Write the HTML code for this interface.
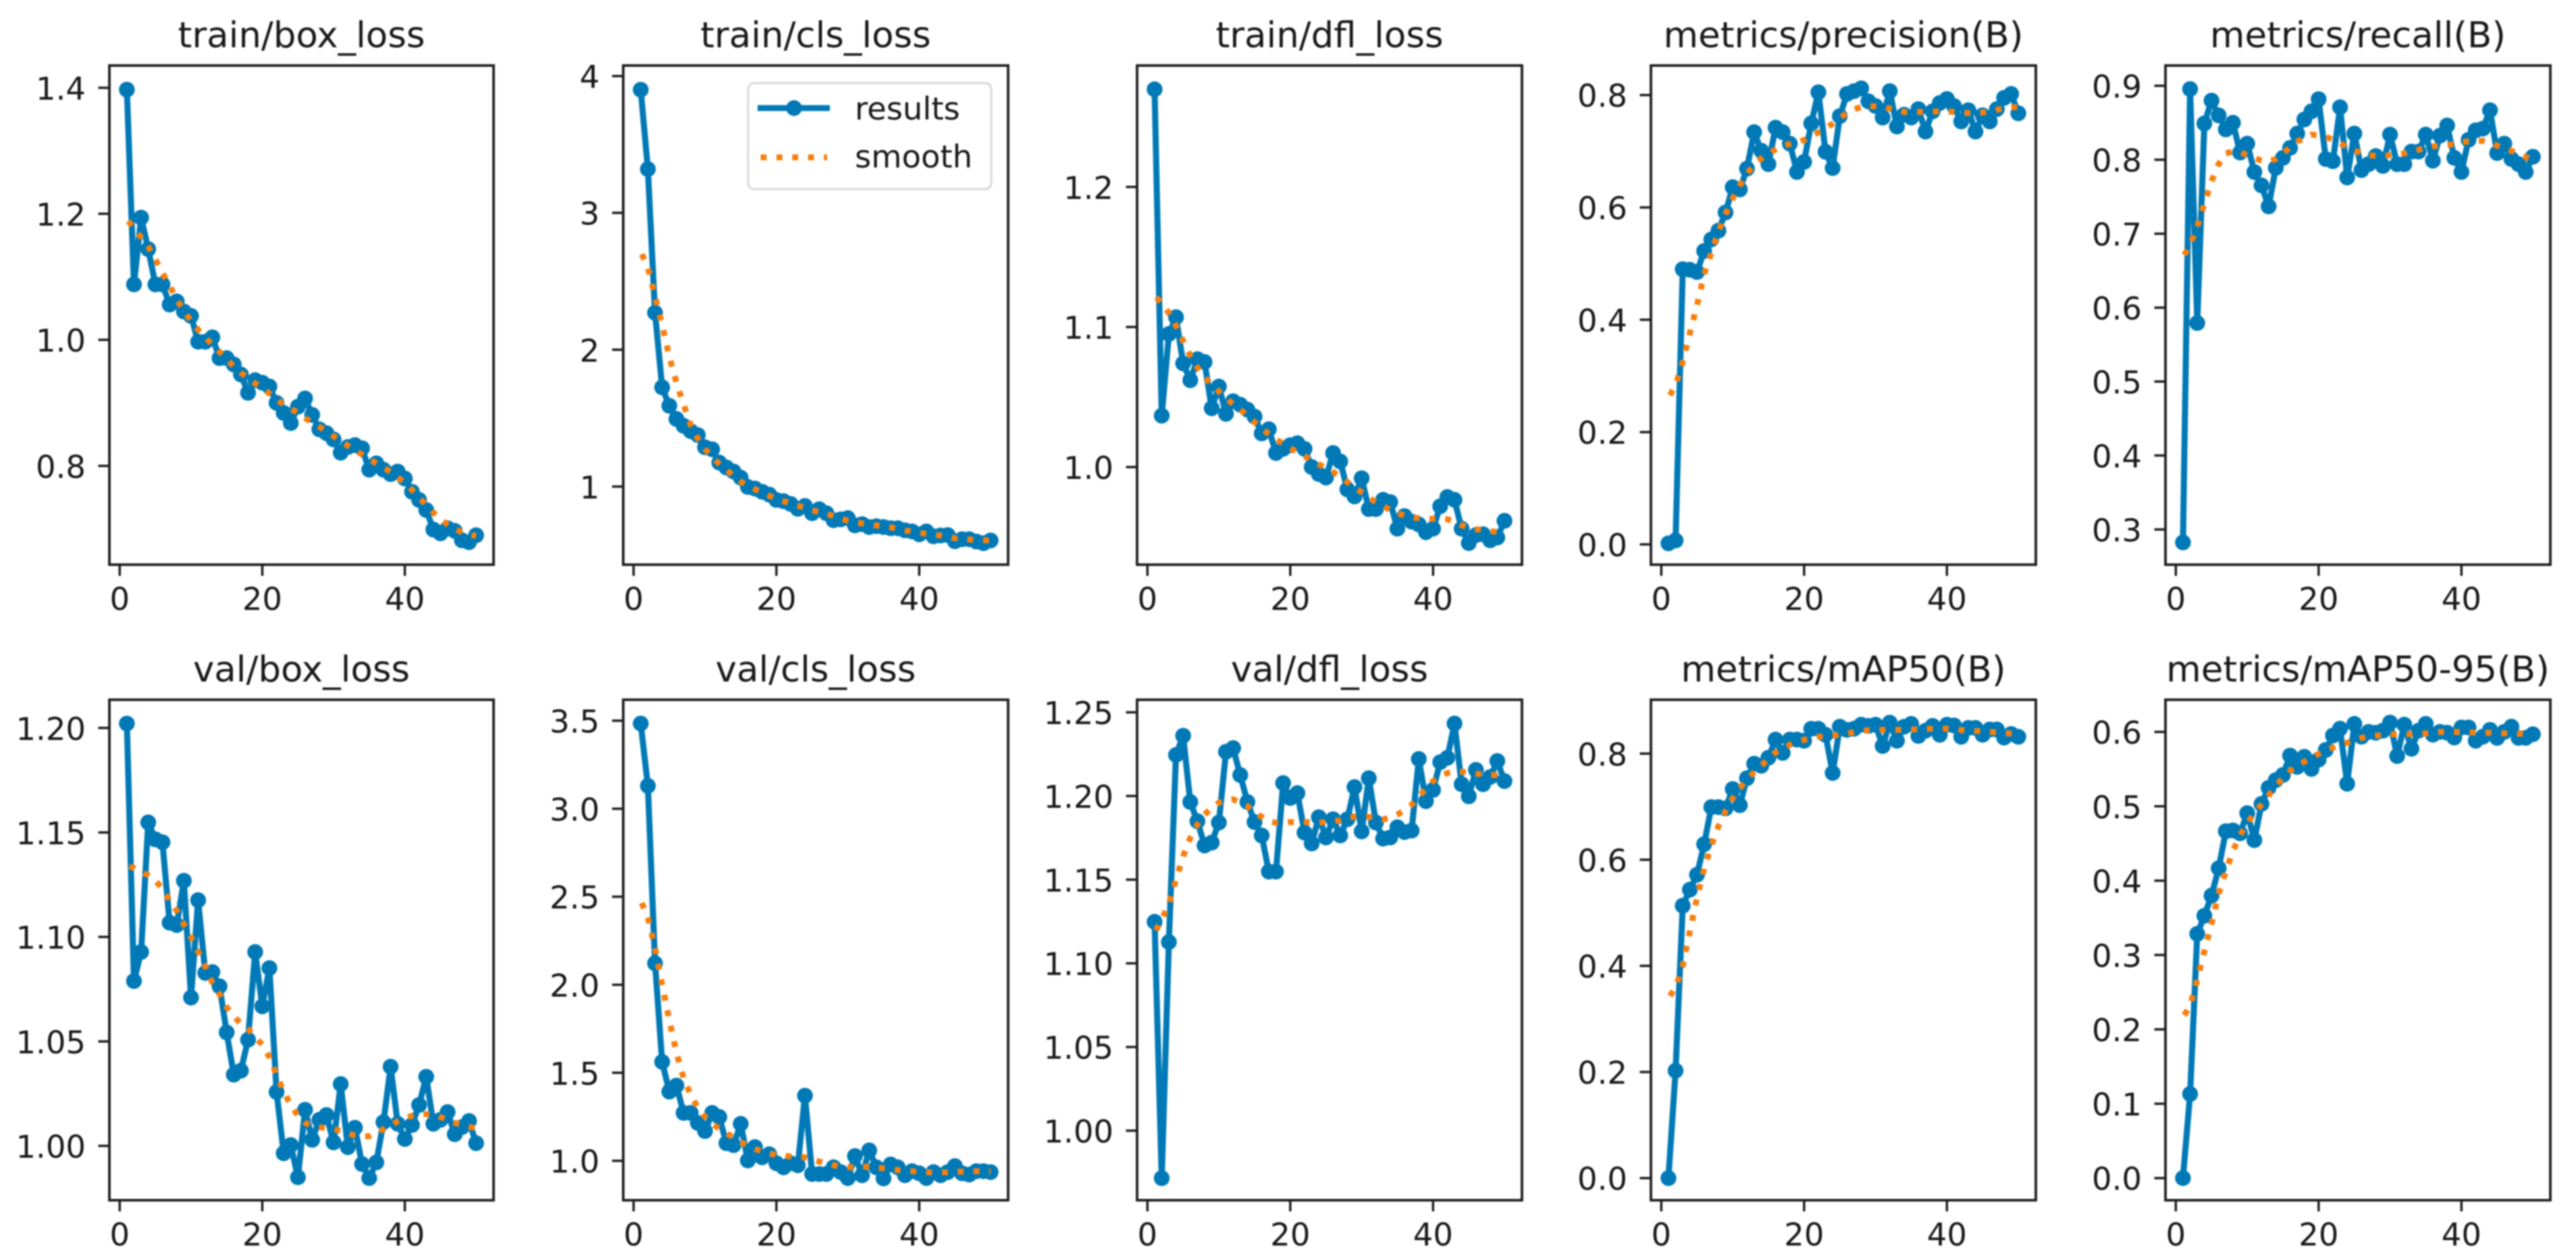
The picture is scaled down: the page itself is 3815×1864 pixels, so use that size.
<!DOCTYPE html>
<html lang="en">
<head>
<meta charset="utf-8">
<title>Training results</title>
<style>
  html, body { margin: 0; padding: 0; background: #fff; }
  body { width: 3815px; height: 1864px; overflow: hidden; }
  svg { display: block; filter: blur(1px); }
  text { font-family: "DejaVu Sans", "Liberation Sans", sans-serif; fill: #1a1819; }
</style>
</head>
<body>
<svg id="chart" xmlns="http://www.w3.org/2000/svg" width="3815" height="1864" viewBox="0 0 3815 1864"></svg>
<script>
const epochs = [1,2,3,4,5,6,7,8,9,10,11,12,13,14,15,16,17,18,19,20,21,22,23,24,25,26,27,28,29,30,31,32,33,34,35,36,37,38,39,40,41,42,43,44,45,46,47,48,49,50];
const xTickValues = [0, 20, 40];

const trainBoxResults = [1.397,1.088,1.194,1.144,1.088,1.088,1.056,1.061,1.045,1.038,0.997,0.997,1.004,0.971,0.971,0.961,0.945,0.916,0.936,0.932,0.926,0.900,0.884,0.868,0.894,0.907,0.881,0.858,0.852,0.842,0.821,0.830,0.833,0.828,0.794,0.804,0.794,0.787,0.791,0.780,0.759,0.746,0.730,0.699,0.693,0.701,0.697,0.682,0.679,0.690];
const trainBoxSmooth = [1.192,1.176,1.163,1.148,1.128,1.106,1.086,1.064,1.046,1.030,1.016,1.004,0.992,0.981,0.969,0.958,0.948,0.939,0.931,0.923,0.915,0.906,0.897,0.891,0.884,0.876,0.869,0.862,0.855,0.847,0.840,0.832,0.825,0.818,0.811,0.804,0.797,0.791,0.782,0.773,0.762,0.750,0.738,0.726,0.716,0.707,0.700,0.695,0.691,0.689];
const trainBoxTicks = [0.8, 1.0, 1.2, 1.4];
const trainBoxTickLabels = ["0.8", "1.0", "1.2", "1.4"];
const trainBoxDomain = [0.6433, 1.4353];

const trainClsResults = [3.90,3.32,2.27,1.725,1.59,1.494,1.444,1.405,1.376,1.287,1.272,1.175,1.139,1.11,1.065,0.997,0.985,0.962,0.941,0.902,0.893,0.873,0.837,0.858,0.805,0.834,0.805,0.754,0.76,0.769,0.716,0.725,0.704,0.71,0.704,0.695,0.695,0.68,0.672,0.651,0.672,0.636,0.642,0.645,0.60,0.615,0.615,0.598,0.586,0.606];
const trainClsSmooth = [2.716,2.60,2.39,2.18,1.95,1.76,1.60,1.45,1.35,1.275,1.215,1.165,1.12,1.08,1.036,1.005,0.98,0.955,0.932,0.91,0.893,0.877,0.86,0.845,0.825,0.815,0.80,0.785,0.765,0.75,0.74,0.73,0.722,0.716,0.708,0.702,0.692,0.68,0.67,0.662,0.655,0.648,0.642,0.632,0.622,0.617,0.613,0.61,0.607,0.605];
const trainClsTicks = [1, 2, 3, 4];
const trainClsTickLabels = ["1", "2", "3", "4"];
const trainClsDomain = [0.429, 4.077];

const trainDflResults = [1.2697,1.0367,1.095,1.107,1.074,1.062,1.077,1.075,1.042,1.0575,1.038,1.047,1.0445,1.041,1.036,1.024,1.027,1.010,1.013,1.0156,1.017,1.013,1.000,0.995,0.9925,1.010,1.004,0.984,0.979,0.992,0.970,0.970,0.9766,0.975,0.956,0.965,0.961,0.959,0.9535,0.956,0.972,0.9786,0.9766,0.956,0.9457,0.9514,0.952,0.9477,0.9497,0.9616];
const trainDflSmooth = [1.1225,1.117,1.110,1.101,1.090,1.0795,1.071,1.064,1.059,1.054,1.049,1.045,1.041,1.0365,1.032,1.0277,1.0235,1.020,1.0165,1.0136,1.0105,1.0078,1.005,1.002,0.9993,0.9965,0.993,0.9893,0.9855,0.982,0.978,0.975,0.972,0.9695,0.967,0.9655,0.964,0.9635,0.963,0.963,0.963,0.9627,0.961,0.9585,0.9568,0.9556,0.955,0.9543,0.9535,0.953];
const trainDflTicks = [1.0, 1.1, 1.2];
const trainDflTickLabels = ["1.0", "1.1", "1.2"];
const trainDflDomain = [0.9303, 1.2867];

const precisionResults = [0.002,0.007,0.49,0.489,0.485,0.5225,0.543,0.5586,0.591,0.636,0.632,0.669,0.734,0.701,0.677,0.742,0.734,0.7135,0.663,0.681,0.7495,0.805,0.699,0.670,0.7625,0.802,0.807,0.812,0.789,0.7805,0.760,0.807,0.744,0.765,0.760,0.775,0.735,0.771,0.786,0.793,0.7805,0.753,0.773,0.735,0.764,0.753,0.775,0.795,0.802,0.7676];
const precisionSmooth = [0.2616,0.283,0.325,0.376,0.425,0.481,0.519,0.557,0.588,0.616,0.639,0.660,0.676,0.687,0.696,0.703,0.709,0.713,0.716,0.72,0.727,0.7335,0.741,0.749,0.759,0.768,0.775,0.7785,0.78,0.78,0.779,0.776,0.772,0.770,0.770,0.770,0.770,0.7705,0.771,0.771,0.770,0.769,0.768,0.768,0.769,0.771,0.774,0.776,0.778,0.779];
const precisionTicks = [0.0, 0.2, 0.4, 0.6, 0.8];
const precisionTickLabels = ["0.0", "0.2", "0.4", "0.6", "0.8"];
const precisionDomain = [-0.036, 0.8526];

const recallResults = [0.2825,0.8956,0.5792,0.849,0.880,0.860,0.841,0.850,0.8097,0.8217,0.7834,0.7653,0.7369,0.789,0.8025,0.816,0.8354,0.8545,0.8655,0.8819,0.801,0.798,0.871,0.776,0.8354,0.786,0.794,0.805,0.7916,0.834,0.794,0.794,0.811,0.811,0.834,0.7987,0.8327,0.8463,0.8025,0.7834,0.827,0.8398,0.842,0.867,0.809,0.8217,0.801,0.794,0.7834,0.804];
const recallSmooth = [0.668,0.685,0.7095,0.7405,0.771,0.794,0.809,0.8105,0.8105,0.806,0.802,0.799,0.7975,0.801,0.808,0.817,0.8245,0.8295,0.834,0.833,0.831,0.827,0.822,0.817,0.8125,0.809,0.806,0.8053,0.8053,0.806,0.807,0.8085,0.811,0.8135,0.816,0.818,0.819,0.82,0.821,0.8235,0.825,0.8255,0.8255,0.823,0.819,0.815,0.812,0.8075,0.8036,0.80];
const recallTicks = [0.3, 0.4, 0.5, 0.6, 0.7, 0.8, 0.9];
const recallTickLabels = ["0.3", "0.4", "0.5", "0.6", "0.7", "0.8", "0.9"];
const recallDomain = [0.2524, 0.9274];

const valBoxResults = [1.2021,1.0789,1.0928,1.1548,1.1467,1.1453,1.1068,1.1057,1.1269,1.071,1.1176,1.0828,1.0832,1.0764,1.0543,1.0341,1.036,1.0508,1.0928,1.0668,1.0851,1.0258,0.9965,1.0004,0.985,1.0173,1.0029,1.0125,1.0148,1.0017,1.0296,0.9994,1.0087,0.9913,0.9846,0.9921,1.0114,1.0379,1.0106,1.0033,1.010,1.0196,1.0331,1.0106,1.0125,1.0162,1.0056,1.009,1.0119,1.0013];
const valBoxSmooth = [1.1342,1.133,1.131,1.1295,1.127,1.123,1.1175,1.1125,1.106,1.100,1.093,1.086,1.078,1.0725,1.0664,1.062,1.0585,1.056,1.052,1.0485,1.0425,1.034,1.026,1.0195,1.0145,1.011,1.0095,1.009,1.0085,1.008,1.0072,1.006,1.005,1.0046,1.0046,1.006,1.008,1.0097,1.0118,1.0132,1.0144,1.015,1.0152,1.015,1.0138,1.0125,1.011,1.0103,1.0092,1.0085];
const valBoxTicks = [1.00, 1.05, 1.10, 1.15, 1.20];
const valBoxTickLabels = ["1.00", "1.05", "1.10", "1.15", "1.20"];
const valBoxDomain = [0.974, 1.2135];

const valClsResults = [3.484,3.13,2.122,1.562,1.393,1.427,1.272,1.272,1.215,1.169,1.272,1.249,1.10,1.089,1.21,1.002,1.078,1.02,1.037,0.986,0.963,0.986,0.975,1.37,0.925,0.925,0.925,0.963,0.936,0.902,1.027,0.918,1.059,0.963,0.90,0.979,0.963,0.918,0.941,0.929,0.902,0.936,0.918,0.936,0.97,0.929,0.922,0.941,0.941,0.936];
const valClsSmooth = [2.479,2.38,2.21,2.00,1.80,1.615,1.47,1.375,1.30,1.25,1.21,1.183,1.158,1.13,1.106,1.088,1.067,1.054,1.042,1.034,1.029,1.025,1.022,1.02,1.008,0.996,0.985,0.975,0.968,0.964,0.964,0.967,0.966,0.962,0.957,0.952,0.947,0.944,0.941,0.937,0.935,0.934,0.934,0.935,0.937,0.939,0.94,0.941,0.941,0.941];
const valClsTicks = [1.0, 1.5, 2.0, 2.5, 3.0, 3.5];
const valClsTickLabels = ["1.0", "1.5", "2.0", "2.5", "3.0", "3.5"];
const valClsDomain = [0.776, 3.619];

const valDflResults = [1.1248,0.9716,1.1127,1.2245,1.236,1.1964,1.1849,1.1704,1.1721,1.1841,1.2264,1.2286,1.2125,1.1964,1.1844,1.1764,1.1548,1.1548,1.2077,1.1988,1.2017,1.1781,1.1716,1.1873,1.1752,1.1861,1.1764,1.1861,1.2053,1.1788,1.2106,1.1841,1.1745,1.1752,1.1813,1.1784,1.1793,1.2221,1.1969,1.2036,1.2202,1.2228,1.2433,1.207,1.1998,1.2156,1.207,1.2113,1.2209,1.2089];
const valDflSmooth = [1.1183,1.126,1.1356,1.15,1.164,1.175,1.183,1.1888,1.193,1.196,1.1975,1.198,1.196,1.194,1.19,1.1875,1.1848,1.184,1.184,1.1844,1.1844,1.1844,1.1842,1.184,1.1845,1.1848,1.1855,1.187,1.1875,1.1877,1.1875,1.187,1.186,1.187,1.1889,1.1915,1.1947,1.2,1.204,1.2089,1.212,1.2137,1.2144,1.2144,1.214,1.2133,1.213,1.2125,1.2125,1.2125];
const valDflTicks = [1.00, 1.05, 1.10, 1.15, 1.20, 1.25];
const valDflTickLabels = ["1.00", "1.05", "1.10", "1.15", "1.20", "1.25"];
const valDflDomain = [0.9584, 1.2575];

const map50Results = [0.0,0.2025,0.5134,0.5437,0.5718,0.6294,0.6992,0.6992,0.6969,0.7333,0.7029,0.7537,0.781,0.7773,0.7924,0.8265,0.8015,0.8265,0.8265,0.8243,0.847,0.847,0.8356,0.7636,0.8508,0.8448,0.847,0.8546,0.8523,0.8546,0.8144,0.8584,0.8243,0.8508,0.8561,0.8334,0.8432,0.8523,0.8356,0.8546,0.8531,0.8318,0.8485,0.8485,0.8356,0.8455,0.8455,0.8303,0.8371,0.8318];
const map50Smooth = [0.339,0.359,0.4,0.465,0.528,0.583,0.627,0.663,0.692,0.716,0.735,0.751,0.765,0.777,0.791,0.802,0.81,0.8167,0.822,0.826,0.829,0.8318,0.833,0.834,0.836,0.838,0.8405,0.843,0.8442,0.845,0.845,0.8448,0.8448,0.845,0.8455,0.846,0.8468,0.847,0.847,0.847,0.846,0.8445,0.8435,0.8428,0.8418,0.841,0.8403,0.839,0.838,0.837];
const map50Ticks = [0.0, 0.2, 0.4, 0.6, 0.8];
const map50TickLabels = ["0.0", "0.2", "0.4", "0.6", "0.8"];
const map50Domain = [-0.0417, 0.9016];

const map5095Results = [0.0,0.1131,0.3285,0.3528,0.3799,0.4167,0.4665,0.4675,0.4637,0.4908,0.4545,0.5032,0.5249,0.5352,0.5422,0.5682,0.553,0.5666,0.5503,0.5628,0.5758,0.5952,0.6044,0.5303,0.6109,0.5936,0.6001,0.599,0.6017,0.6126,0.5676,0.6098,0.5774,0.6017,0.6109,0.5963,0.6001,0.599,0.5925,0.606,0.606,0.5882,0.5936,0.6028,0.592,0.6001,0.6071,0.592,0.592,0.5969];
const map5095Smooth = [0.216,0.232,0.2665,0.305,0.342,0.3826,0.412,0.44,0.461,0.477,0.491,0.5025,0.5148,0.527,0.5385,0.5476,0.554,0.56,0.5655,0.5705,0.575,0.579,0.5825,0.5855,0.589,0.592,0.594,0.595,0.5958,0.5965,0.597,0.597,0.597,0.5975,0.598,0.599,0.6,0.6,0.6,0.5998,0.5995,0.599,0.599,0.599,0.5988,0.5982,0.598,0.5977,0.5974,0.597];
const map5095Ticks = [0.0, 0.1, 0.2, 0.3, 0.4, 0.5, 0.6];
const map5095TickLabels = ["0.0", "0.1", "0.2", "0.3", "0.4", "0.5", "0.6"];
const map5095Domain = [-0.0298, 0.6433];

const xDomain = [-1.45, 52.45];
const columnEdges = [[162, 731], [923, 1493], [1684, 2254], [2445, 3015], [3207, 3777]];
const rowEdges = [[97, 836], [1036, 1777]];
const BLUE = "#0079b6";
const ORANGE = "#f77f0e";
const INK = "#1f1d1e";
const NS = "http://www.w3.org/2000/svg";
const TICK_FONT = 46.5;
const root = document.getElementById("chart");

function make(tag, attrs, parent) {
  const node = document.createElementNS(NS, tag);
  for (const key in attrs) node.setAttribute(key, attrs[key]);
  parent.appendChild(node);
  return node;
}

function linearScale(domain, range) {
  return function (value) {
    return range[0] + (value - domain[0]) * (range[1] - range[0]) / (domain[1] - domain[0]);
  };
}

const panelSpecs = [
  { slug: "train-box-loss", title: "train/box_loss", results: trainBoxResults, smooth: trainBoxSmooth, ticks: trainBoxTicks, labels: trainBoxTickLabels, domain: trainBoxDomain, col: 0, row: 0 },
  { slug: "train-cls-loss", title: "train/cls_loss", results: trainClsResults, smooth: trainClsSmooth, ticks: trainClsTicks, labels: trainClsTickLabels, domain: trainClsDomain, col: 1, row: 0 },
  { slug: "train-dfl-loss", title: "train/dfl_loss", results: trainDflResults, smooth: trainDflSmooth, ticks: trainDflTicks, labels: trainDflTickLabels, domain: trainDflDomain, col: 2, row: 0 },
  { slug: "metrics-precision", title: "metrics/precision(B)", results: precisionResults, smooth: precisionSmooth, ticks: precisionTicks, labels: precisionTickLabels, domain: precisionDomain, col: 3, row: 0 },
  { slug: "metrics-recall", title: "metrics/recall(B)", results: recallResults, smooth: recallSmooth, ticks: recallTicks, labels: recallTickLabels, domain: recallDomain, col: 4, row: 0 },
  { slug: "val-box-loss", title: "val/box_loss", results: valBoxResults, smooth: valBoxSmooth, ticks: valBoxTicks, labels: valBoxTickLabels, domain: valBoxDomain, col: 0, row: 1 },
  { slug: "val-cls-loss", title: "val/cls_loss", results: valClsResults, smooth: valClsSmooth, ticks: valClsTicks, labels: valClsTickLabels, domain: valClsDomain, col: 1, row: 1 },
  { slug: "val-dfl-loss", title: "val/dfl_loss", results: valDflResults, smooth: valDflSmooth, ticks: valDflTicks, labels: valDflTickLabels, domain: valDflDomain, col: 2, row: 1 },
  { slug: "metrics-map50", title: "metrics/mAP50(B)", results: map50Results, smooth: map50Smooth, ticks: map50Ticks, labels: map50TickLabels, domain: map50Domain, col: 3, row: 1 },
  { slug: "metrics-map50-95", title: "metrics/mAP50-95(B)", results: map5095Results, smooth: map5095Smooth, ticks: map5095Ticks, labels: map5095TickLabels, domain: map5095Domain, col: 4, row: 1 }
];

function drawPanel(spec) {
  const left = columnEdges[spec.col][0];
  const right = columnEdges[spec.col][1];
  const top = rowEdges[spec.row][0];
  const bottom = rowEdges[spec.row][1];
  const xAt = linearScale(xDomain, [left, right]);
  const yAt = linearScale(spec.domain, [bottom, top]);

  const group = make("g", {}, root);
  
  

  const title = make("text", { x: (left + right) / 2, y: top - 27, "text-anchor": "middle", "font-size": 53 }, group);
  
  
  title.textContent = spec.title;

  xTickValues.forEach(function (value) {
    const px = xAt(value);
    const tick = make("line", { x1: px, x2: px, y1: bottom, y2: bottom + 16.5, stroke: INK, "stroke-width": 3.5 }, group);
    
    
    const label = make("text", { x: px, y: bottom + 67, "text-anchor": "middle", "font-size": TICK_FONT }, group);
    
    
    label.textContent = String(value);
  });

  spec.ticks.forEach(function (value, index) {
    const py = yAt(value);
    const tick = make("line", { x1: left - 16.5, x2: left, y1: py, y2: py, stroke: INK, "stroke-width": 3.5 }, group);
    
    
    const label = make("text", { x: left - 35, y: py + 17.5, "text-anchor": "end", "font-size": TICK_FONT }, group);
    
    
    label.textContent = spec.labels[index];
  });

  const resultPoints = epochs.map(function (e, i) { return xAt(e).toFixed(1) + "," + yAt(spec.results[i]).toFixed(1); }).join(" ");
  const resultLine = make("polyline", { points: resultPoints, fill: "none", stroke: BLUE, "stroke-width": 9, "stroke-linejoin": "round" }, group);
  
  

  epochs.forEach(function (e, i) {
    const dot = make("circle", { cx: xAt(e), cy: yAt(spec.results[i]), r: 11.7, fill: BLUE }, group);
    
    
  });

  const smoothPoints = epochs.map(function (e, i) { return xAt(e).toFixed(1) + "," + yAt(spec.smooth[i]).toFixed(1); }).join(" ");
  const smoothLine = make("polyline", { points: smoothPoints, fill: "none", stroke: ORANGE, "stroke-width": 8.8, "stroke-dasharray": "8.8 14.6", "stroke-dashoffset": -4 }, group);
  
  

  const frame = make("rect", { x: left, y: top, width: right - left, height: bottom - top, fill: "none", stroke: INK, "stroke-width": 3.8 }, group);
  
  
}

panelSpecs.forEach(drawPanel);

const legend = make("g", {}, root);



const legendBox = make("rect", { x: 1108, y: 123, width: 360, height: 157, rx: 9, ry: 9, fill: "#ffffff", stroke: "#dcdcdc", "stroke-width": 3.5 }, legend);



const legendLine = make("line", { x1: 1122, x2: 1229, y1: 160, y2: 160, stroke: BLUE, "stroke-width": 8.8 }, legend);



const legendDot = make("circle", { cx: 1176, cy: 160, r: 11.7, fill: BLUE }, legend);



const legendResults = make("text", { x: 1266, y: 177, "font-size": TICK_FONT }, legend);


legendResults.textContent = "results";

const legendDots = make("line", { x1: 1126.5, x2: 1225, y1: 233, y2: 233, stroke: ORANGE, "stroke-width": 8.8, "stroke-dasharray": "8.8 14.6" }, legend);



const legendSmooth = make("text", { x: 1266, y: 248, "font-size": TICK_FONT }, legend);


legendSmooth.textContent = "smooth";
</script>
</body>
</html>
